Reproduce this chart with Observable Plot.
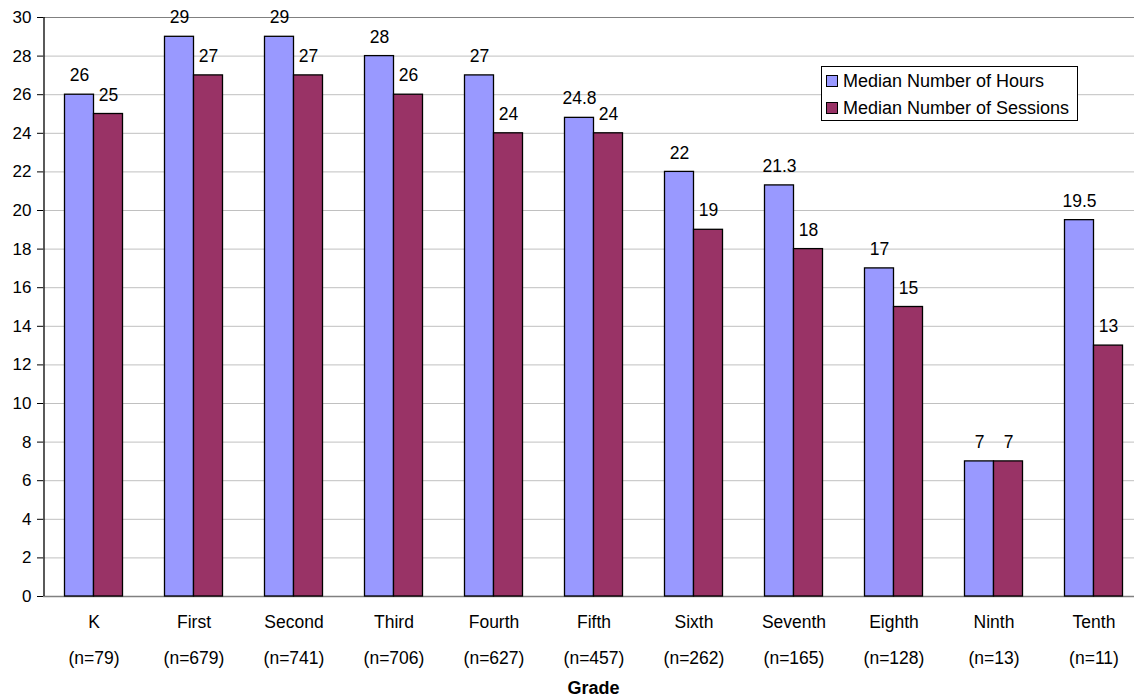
<!DOCTYPE html>
<html>
<head>
<meta charset="utf-8">
<script src="https://cdn.jsdelivr.net/npm/d3@7"></script>
<script src="https://cdn.jsdelivr.net/npm/@observablehq/plot@0.6"></script>
<style>
  html, body { margin: 0; padding: 0; background: #fff; overflow: hidden; }
  #wrap { position: relative; width: 1134px; height: 698px; overflow: hidden; }
  #wrap svg { max-width: none !important; }
  #legend { position: absolute; left: 821px; top: 66px; width: 255px; height: 53px;
    border: 1px solid #000; background: #fff; font: 18px "Liberation Sans", Arial, sans-serif; color: #000; }
  #legend .row { position: absolute; left: 4px; height: 20px; display: flex; align-items: center; white-space: nowrap; }
  #legend .sw { width: 10px; height: 10px; border: 1px solid #000; margin-right: 5px; }
</style>
</head>
<body>
<div id="wrap"><div id="legend"></div></div>
<script>
const grades = ["K", "First", "Second", "Third", "Fourth", "Fifth", "Sixth", "Seventh", "Eighth", "Ninth", "Tenth"];
const nCounts = [79, 679, 741, 706, 627, 457, 262, 165, 128, 13, 11];
const hours = [26, 29, 29, 28, 27, 24.8, 22, 21.3, 17, 7, 19.5];
const sessions = [25, 27, 27, 26, 24, 24, 19, 18, 15, 7, 13];
const seriesNames = ["Median Number of Hours", "Median Number of Sessions"];
const seriesColors = ["#9999FF", "#993366"];
const yTicks = d3.range(0, 31, 2);

const data = grades.map((g, i) => ({grade: g, n: nCounts[i], hours: hours[i], sessions: sessions[i]}));
const nByGrade = Object.fromEntries(grades.map((g, i) => [g, nCounts[i]]));

const font = '"Liberation Sans", Arial, sans-serif';

const chart = Plot.plot({
  width: 1143,
  height: 698,
  marginLeft: 43,
  marginRight: 0,
  marginTop: 17,
  marginBottom: 102,
  style: {fontFamily: font, fontSize: "17.5px", color: "#000", background: "#fff", maxWidth: "none"},
  x: {type: "band", domain: grades, range: [43, 1143], paddingInner: 0.71, paddingOuter: 0.355, label: null},
  y: {domain: [0, 30], range: [596, 17], label: null},
  marks: [
    Plot.ruleY(yTicks.filter(t => t > 0 && t < 30), {stroke: "#c0c0c0", strokeWidth: 1}),
    Plot.ruleY([30], {stroke: "#808080", strokeWidth: 1.2}),
    Plot.ruleY([0], {stroke: "#808080", strokeWidth: 1.5}),
    Plot.barY(data, {x: "grade", y: "hours", fill: seriesColors[0], stroke: "#000", strokeWidth: 1.3, dx: -14.5}),
    Plot.barY(data, {x: "grade", y: "sessions", fill: seriesColors[1], stroke: "#000", strokeWidth: 1.3, dx: 14.5}),
    Plot.text(data, {x: "grade", y: "hours", text: d => String(d.hours), dx: -14.5, dy: -19, fontSize: 17.5, fill: "#000"}),
    Plot.text(data, {x: "grade", y: "sessions", text: d => String(d.sessions), dx: 14.5, dy: -19, fontSize: 17.5, fill: "#000"}),
    Plot.ruleX(grades.slice(0, 1), {dx: -50, y1: 0, y2: 30, stroke: "#000", strokeWidth: 1.3}),
    Plot.axisY({ticks: yTicks, tickSize: 6, tickPadding: 6, fontSize: 17, label: null, stroke: "#000"}),
    Plot.axisX({tickSize: 0, tickPadding: 19.5, fontSize: 17.5, label: null}),
    Plot.axisX({tickSize: 0, tickPadding: 55, fontSize: 17.5, label: null, tickFormat: g => `(n=${nByGrade[g]})`}),
    Plot.text(["Grade"], {frameAnchor: "bottom", dy: 97, text: d => d, fontSize: 18, fontWeight: "bold", fill: "#000"})
  ]
});
chart.style.maxWidth = "none";
chart.style.height = "698px";
const wrap = document.getElementById("wrap");
wrap.insertBefore(chart, wrap.firstChild);

const legend = document.getElementById("legend");
seriesNames.forEach((name, i) => {
  const row = document.createElement("div");
  row.className = "row";
  row.style.top = (i === 0 ? 4 : 31) + "px";
  const sw = document.createElement("div");
  sw.className = "sw";
  sw.style.background = seriesColors[i];
  const t = document.createElement("span");
  t.textContent = name;
  row.appendChild(sw);
  row.appendChild(t);
  legend.appendChild(row);
});
</script>
</body>
</html>
